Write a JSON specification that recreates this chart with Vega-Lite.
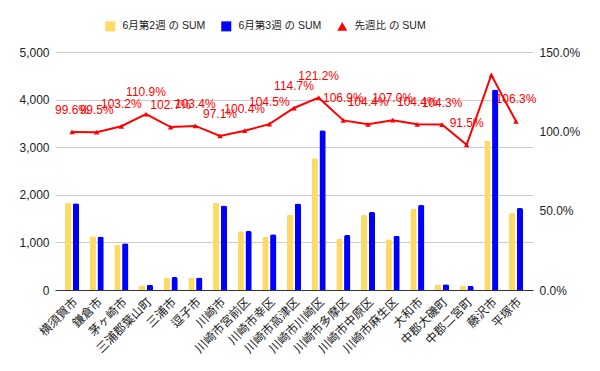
{
  "$schema": "https://vega.github.io/schema/vega-lite/v6.json",
  "width": 478,
  "height": 238,
  "autosize": {"type": "none"},
  "padding": {"left": 55, "top": 52, "right": 67, "bottom": 81},
  "config": {
    "font": "Liberation Sans, Noto Sans CJK JP, sans-serif",
    "view": {"stroke": null},
    "axis": {"labelColor": "#222222", "labelFontSize": 12, "titleFontSize": 12}
  },
  "data": {
    "values": [
      {"city": "横須賀市", "w2": 1830, "w3": 1822, "ratio": 0.996},
      {"city": "鎌倉市", "w2": 1130, "w3": 1124, "ratio": 0.995},
      {"city": "茅ヶ崎市", "w2": 950, "w3": 980, "ratio": 1.032},
      {"city": "三浦郡葉山町", "w2": 101, "w3": 112, "ratio": 1.109},
      {"city": "三浦市", "w2": 265, "w3": 272, "ratio": 1.027},
      {"city": "逗子市", "w2": 255, "w3": 264, "ratio": 1.034},
      {"city": "川崎市", "w2": 1830, "w3": 1777, "ratio": 0.971},
      {"city": "川崎市宮前区", "w2": 1235, "w3": 1240, "ratio": 1.004},
      {"city": "川崎市幸区", "w2": 1120, "w3": 1170, "ratio": 1.045},
      {"city": "川崎市高津区", "w2": 1585, "w3": 1818, "ratio": 1.147},
      {"city": "川崎市川崎区", "w2": 2770, "w3": 3357, "ratio": 1.212},
      {"city": "川崎市多摩区", "w2": 1080, "w3": 1153, "ratio": 1.069},
      {"city": "川崎市中原区", "w2": 1575, "w3": 1640, "ratio": 1.044},
      {"city": "川崎市麻生区", "w2": 1065, "w3": 1140, "ratio": 1.070},
      {"city": "大和市", "w2": 1710, "w3": 1785, "ratio": 1.044},
      {"city": "中郡大磯町", "w2": 115, "w3": 120, "ratio": 1.043},
      {"city": "中郡二宮町", "w2": 95, "w3": 87, "ratio": 0.915},
      {"city": "藤沢市", "w2": 3135, "w3": 4210, "ratio": 1.355},
      {"city": "平塚市", "w2": 1620, "w3": 1722, "ratio": 1.063}
    ]
  },
  "encoding": {
    "x": {
      "field": "city",
      "type": "nominal",
      "sort": null,
      "scale": {"paddingInner": 0, "paddingOuter": 0.19},
      "axis": {
        "title": null,
        "labelAngle": -45,
        "ticks": false,
        "domainColor": "#333333",
        "labelPadding": 6,
        "labelFontSize": 12
      }
    }
  },
  "layer": [
    {
      "transform": [{"fold": ["w2", "w3"], "as": ["key", "value"]}],
      "mark": {"type": "bar", "cornerRadiusTopLeft": 2, "cornerRadiusTopRight": 2},
      "encoding": {
        "xOffset": {"field": "key", "type": "nominal", "scale": {"paddingInner": 0.19, "paddingOuter": 0.68}},
        "y": {
          "field": "value",
          "type": "quantitative",
          "scale": {"domain": [0, 5000], "nice": false},
          "axis": {
            "orient": "left",
            "title": null,
            "values": [0, 1000, 2000, 3000, 4000, 5000],
            "format": ",.0f",
            "grid": true,
            "gridColor": "#cccccc",
            "domain": false,
            "ticks": false,
            "labelPadding": 6
          }
        },
        "color": {
          "field": "key",
          "type": "nominal",
          "scale": {"domain": ["w2", "w3", "ratio"], "range": ["#ffd966", "#0000ff", "#ff0000"]},
          "legend": {
            "title": null,
            "orient": "none",
            "direction": "horizontal",
            "legendX": 50,
            "legendY": -31,
            "labelFontSize": 10.5,
            "labelColor": "#222222",
            "labelOffset": 7,
            "columnPadding": 15,
            "symbolSize": 100,
            "labelExpr": "{'w2': '6月第2週 の SUM', 'w3': '6月第3週 の SUM', 'ratio': '先週比 の SUM'}[datum.label]",
            "encode": {
              "symbols": {
                "update": {
                  "shape": {"signal": "datum.value === 'ratio' ? 'triangle-up' : 'square'"},
                  "fill": {"scale": "color", "field": "value"},
                  "strokeWidth": {"value": 0},
                  "opacity": {"value": 1}
                }
              }
            }
          }
        }
      }
    },
    {
      "layer": [
        {
          "mark": {"type": "line", "strokeWidth": 2, "point": {"shape": "triangle-up", "size": 30, "filled": true}},
          "encoding": {
            "y": {
              "field": "ratio",
              "type": "quantitative",
              "scale": {"domain": [0, 1.5], "nice": false},
              "axis": {
                "orient": "right",
                "title": null,
                "values": [0, 0.5, 1, 1.5],
                "format": ".1%",
                "grid": false,
                "domain": false,
                "ticks": false,
                "labelPadding": 6
              }
            },
            "color": {"datum": "ratio"}
          }
        },
        {
          "transform": [{"filter": "datum.city !== '藤沢市'"}],
          "mark": {"type": "text", "dy": -22, "baseline": "middle", "align": "center", "fontSize": 12, "color": "#ff0000"},
          "encoding": {
            "y": {"field": "ratio", "type": "quantitative"},
            "text": {"field": "ratio", "type": "quantitative", "format": ".1%"}
          }
        }
      ]
    }
  ],
  "resolve": {"scale": {"y": "independent"}, "axis": {"y": "independent"}}
}
